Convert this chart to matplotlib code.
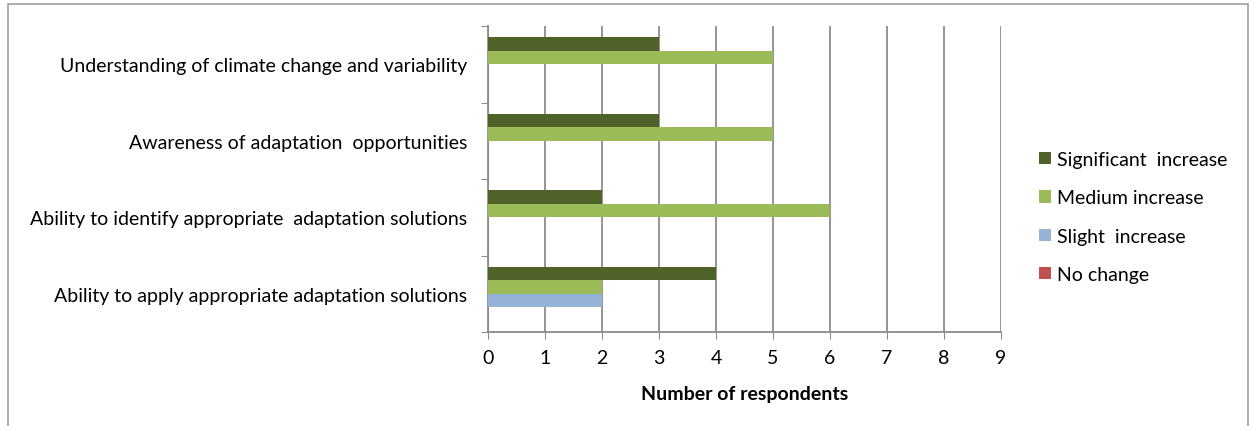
import numpy as np
import matplotlib.pyplot as plt
from matplotlib.patches import Rectangle

# categories listed bottom to top
categories = [
    "Ability to apply appropriate adaptation solutions",
    "Ability to identify appropriate  adaptation solutions",
    "Awareness of adaptation  opportunities",
    "Understanding of climate change and variability",
]
series = ["Significant  increase", "Medium increase", "Slight  increase", "No change"]
significant = [4, 2, 3, 3]
medium = [2, 6, 5, 5]
slight = [2, 0, 0, 0]
no_change = [0, 0, 0, 0]
colors = ["#4F6228", "#9BBB59", "#95B3D7", "#C0504D"]
xticks = list(range(0, 10))

plt.rcParams["font.family"] = ["Lato", "DejaVu Sans"]
grey = "#8c8c8c"
fs = 14

fig = plt.figure(figsize=(12.49, 4.27), dpi=100)
fig.patches.append(Rectangle((8 / 1249, -0.1), 1240 / 1249, 1.1 - 5 / 427,
                             transform=fig.transFigure, fill=False,
                             edgecolor="#a0a0a0", linewidth=1.2))
ax = fig.add_axes([488 / 1249, 1 - 333 / 427, 513 / 1249, 306 / 427])

y = np.arange(len(categories))
h = 0.177
values = [significant, medium, slight, no_change]
for k, (vals, name, col) in enumerate(zip(values, series, colors)):
    ax.barh(y + (1.5 - k) * h, vals, height=h, color=col, label=name, zorder=3)

ax.set_xlim(0, 9)
ax.set_ylim(-0.5, len(categories) - 0.5)
ax.set_xticks(xticks)
ax.tick_params(axis="x", direction="out", length=5, color=grey, labelsize=fs, pad=7)
ax.grid(axis="x", color=grey, linewidth=1.3, zorder=0)

ax.set_yticks(np.arange(-0.5, len(categories), 1.0))
ax.set_yticklabels([])
ax.set_yticks(y, minor=True)
ax.set_yticklabels(categories, minor=True, fontsize=fs)
ax.tick_params(axis="y", which="major", direction="out", length=5, color=grey)
ax.tick_params(axis="y", which="minor", length=0, pad=15)

for s in ["top", "right"]:
    ax.spines[s].set_visible(False)
for s in ["left", "bottom"]:
    ax.spines[s].set_color(grey)
    ax.spines[s].set_linewidth(1.3)

ax.set_xlabel("Number of respondents", fontsize=fs, fontweight="bold", labelpad=14)

ax.legend(loc="center left", bbox_to_anchor=(1.04, 0.376), frameon=False,
          fontsize=fs, handlelength=0.6, handleheight=0.6, labelspacing=1.1,
          handletextpad=0.35)

fig.savefig("out.png", dpi=100)
